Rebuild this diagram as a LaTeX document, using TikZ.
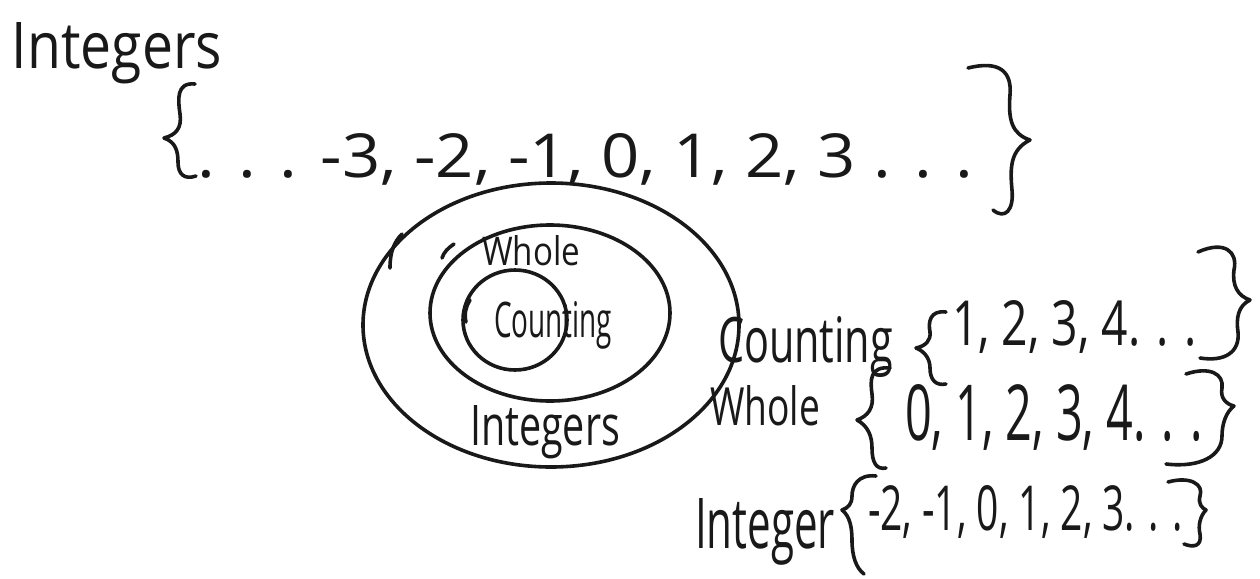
\documentclass[tikz,border=0pt]{standalone}
\usepackage{fontspec}
\setmainfont{Open Sans}
\newdimen\pxu \pxu=0.5pt
% stretch a text to a given width and height (in pixel units)
\newcommand\fitto[3]{\resizebox{#1\pxu}{#2\pxu}{#3}}
\begin{document}
\begin{tikzpicture}[x=0.5pt,y=-0.5pt,
  ink/.style={line width=1.8pt, line cap=round, line join=round, black!90},
  hand/.style={inner sep=0pt, outer sep=0pt, anchor=base west, text=black!90}]
\useasboundingbox[fill=white] (0,0) rectangle (1260,579);

% ---- top: the integers as a set
\node[hand] (intTitle) at (12,68) {\fitto{210}{46}{Integers}};
\draw[ink] (195,84) .. controls (176,82) and (178,100) .. (180,114)
  .. controls (182,128) and (176,135) .. (164,138)
  .. controls (176,142) and (178,152) .. (178,162)
  .. controls (178,174) and (184,180) .. (196,176);
\node[hand] (intSeq) at (198,177) {\fitto{775}{44}{. . . -3, -2, -1, 0, 1, 2, 3 . . .}};
\draw[ink] (968,68) .. controls (1000,60) and (1012,72) .. (1010,95)
  .. controls (1008,120) and (1012,134) .. (1030,140)
  .. controls (1010,150) and (1010,168) .. (1012,190)
  .. controls (1014,210) and (1005,220) .. (993,210);

% ---- nested sets
\draw[ink] (551,325) ellipse [x radius=188, y radius=142];
\draw[ink] (550,313) ellipse [x radius=120, y radius=88];
\draw[ink] (515,320) ellipse [x radius=52, y radius=50];
\draw[ink] (390,268) .. controls (390,252) and (394,242) .. (402,234);
\draw[ink] (442,258) .. controls (444,252) and (448,248) .. (454,244);
\draw[ink] (466,322) .. controls (464,314) and (466,306) .. (470,300);
\node[hand] (inWhole) at (482,265) {\fitto{98}{30}{Whole}};
\node[hand] (inCount) at (494,337) {\fitto{118}{36}{Counting}};
\node[hand] (inInt) at (470,445) {\fitto{150}{40}{Integers}};

% ---- counting numbers
\node[hand] (cName) at (718,362) {\fitto{175}{46}{Counting}};
\draw[ink] (946,312) .. controls (930,310) and (928,322) .. (930,332)
  .. controls (931,340) and (926,346) .. (916,348)
  .. controls (926,352) and (930,360) .. (930,368)
  .. controls (930,380) and (936,386) .. (946,384);
\node[hand] (cSet) at (952,345) {\fitto{245}{45}{1, 2, 3, 4. . .}};
\draw[ink] (1198,252) .. controls (1225,240) and (1238,252) .. (1234,270)
  .. controls (1232,286) and (1238,296) .. (1250,300)
  .. controls (1238,306) and (1236,318) .. (1238,332)
  .. controls (1240,352) and (1225,362) .. (1200,358);

% ---- whole numbers
\node[hand] (wName) at (710,425) {\fitto{110}{40}{Whole}};
\draw[ink] (890,368) .. controls (870,366) and (870,380) .. (872,394)
  .. controls (874,408) and (868,416) .. (857,420)
  .. controls (868,426) and (872,436) .. (872,448)
  .. controls (872,462) and (876,470) .. (886,468);
\node[hand] (wSet) at (905,440) {\fitto{298}{56}{0, 1, 2, 3, 4. . .}};
\draw[ink] (1186,374) .. controls (1210,366) and (1224,374) .. (1222,388)
  .. controls (1220,398) and (1226,404) .. (1234,406)
  .. controls (1226,412) and (1222,424) .. (1222,436)
  .. controls (1222,456) and (1200,468) .. (1166,464);

% ---- integers
\node[hand] (iName) at (695,548) {\fitto{140}{50}{Integer}};
\draw[ink] (876,476) .. controls (858,474) and (852,486) .. (852,496)
  .. controls (852,504) and (848,508) .. (842,510)
  .. controls (850,516) and (852,528) .. (852,540)
  .. controls (852,556) and (856,568) .. (864,574);
\node[hand] (iSet) at (868,530) {\fitto{315}{45}{-2, -1, 0, 1, 2, 3. . .}};
\draw[ink] (1168,482) .. controls (1190,476) and (1204,484) .. (1200,496)
  .. controls (1198,504) and (1202,508) .. (1206,510)
  .. controls (1200,516) and (1198,526) .. (1200,534)
  .. controls (1202,546) and (1194,548) .. (1184,544);
\end{tikzpicture}
\end{document}
